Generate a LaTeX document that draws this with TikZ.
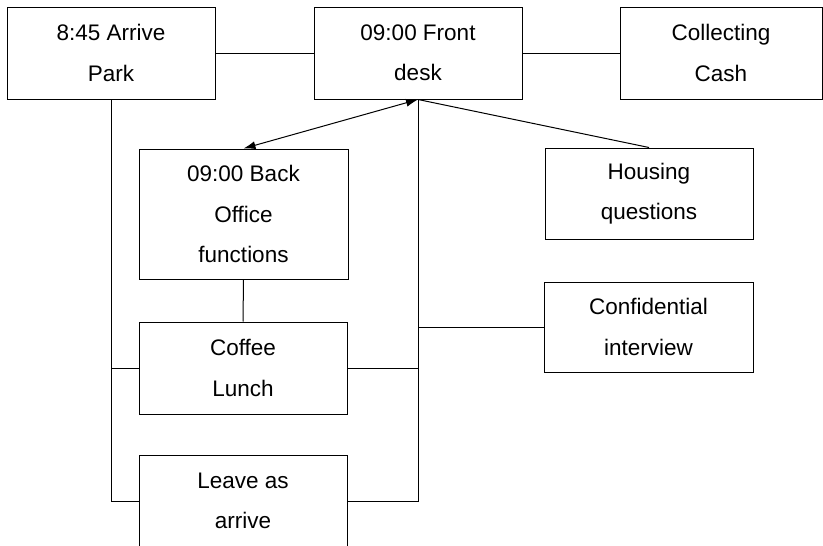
\documentclass[tikz,border=0pt]{standalone}
\usepackage{fontspec}
\setmainfont{Liberation Sans}
\usetikzlibrary{arrows.meta,calc}
\begin{document}
\begin{tikzpicture}[x=1pt,y=-1pt,
  box/.style={draw,line width=1pt,rectangle,inner sep=0pt,align=center,
    font=\fontsize{22.5}{40.5}\selectfont},
  link/.style={line width=1pt},
  tip/.style={line width=1pt,{Latex[length=12pt,width=8pt]}-{Latex[length=12pt,width=8pt]}}]
\clip (0,0) rectangle (823,546);
\fill[white] (0,0) rectangle (823,546);
\node[box,minimum width=208pt,minimum height=92pt] (arrive) at (111,53) {8:45 Arrive\\Park};
\node[box,minimum width=208pt,minimum height=92pt] (front) at (418,53) {09:00 Front\\desk};
\node[box,minimum width=202pt,minimum height=92pt] (cash) at (721,53) {Collecting\\Cash};
\node[box,minimum width=209pt,minimum height=130pt] (back) at (243.5,214) {09:00 Back\\Office\\functions};
\node[box,minimum width=208pt,minimum height=91pt] (housing) at (649,193.5) {Housing\\questions};
\node[box,minimum width=209pt,minimum height=90pt] (conf) at (648.5,327) {Confidential\\interview};
\node[box,minimum width=208pt,minimum height=92pt] (coffee) at (243,368) {Coffee\\Lunch};
\node[box,minimum width=208pt,minimum height=92pt] (leave) at (243,501) {Leave as\\arrive};
\draw[link] (arrive.east) -- (front.west);
\draw[link] (front.east) -- (cash.west);
\draw[tip] (back.north) -- (front.south);
\draw[link] (front.south) -- (housing.north);
\draw[link] (front.south) |- (leave.east);
\draw[link] (front.south |- conf.west) -- (conf.west);
\draw[link] (coffee.east) -- (coffee.east -| front.south);
\draw[link] (arrive.south) |- (leave.west);
\draw[link] (coffee.west) -- (coffee.west -| arrive.south);
\draw[link] (back.south) -- (coffee.north);
\end{tikzpicture}
\end{document}
